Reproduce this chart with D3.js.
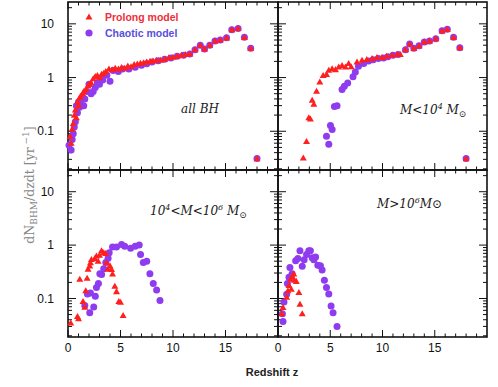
<!DOCTYPE html>
<html>
<head>
<meta charset="utf-8">
<script src="https://cdn.jsdelivr.net/npm/d3@7"></script>
<style>
  body { margin: 0; background: #fff; }
  svg { display: block; }
</style>
</head>
<body>
<div id="chart"></div>
<script>
// [redshift z, dN/dzdt] pairs
const allProlong = [
  [0.2, 0.08], [0.3, 0.06], [0.4, 0.11], [0.5, 0.14], [0.6, 0.2], [0.7, 0.25], [0.8, 0.18],
  [0.9, 0.35], [1.0, 0.3], [1.1, 0.42], [1.2, 0.45], [1.4, 0.5], [1.5, 0.55], [1.7, 0.6],
  [1.9, 0.7], [2.0, 0.75], [2.2, 0.8], [2.4, 0.95], [2.6, 1.05], [2.8, 1.1], [3.0, 1.0],
  [3.2, 1.15], [3.4, 1.2], [3.6, 1.3], [3.9, 1.45], [4.2, 1.4], [4.5, 1.5], [4.8, 1.45],
  [5.1, 1.55], [5.4, 1.5], [5.7, 1.65], [6.0, 1.6], [6.3, 1.75], [6.6, 1.8], [6.9, 1.85],
  [7.2, 1.9], [7.5, 1.95], [7.8, 2.0], [8.1, 2.05], [8.4, 2.1], [8.8, 2.1], [9.2, 2.2],
  [9.6, 2.35], [10.0, 2.4], [10.4, 2.5], [10.8, 2.6], [11.2, 2.7], [11.6, 2.75], [12.1, 3.3],
  [12.6, 4.0], [13.0, 3.4], [13.5, 4.0], [14.0, 4.8], [14.5, 5.0], [15.1, 5.5], [15.6, 7.8],
  [16.2, 8.2], [16.8, 5.6], [17.4, 3.5], [18.0, 0.031]
];
const allChaotic = [
  [0.1, 0.055], [0.3, 0.045], [0.4, 0.07], [0.5, 0.09], [0.6, 0.12], [0.7, 0.15], [0.8, 0.3],
  [0.9, 0.22], [1.0, 0.35], [1.1, 0.28], [1.2, 0.32], [1.5, 0.3], [1.6, 0.4], [1.8, 0.55],
  [2.0, 0.75], [2.2, 0.5], [2.4, 0.55], [2.6, 0.65], [2.8, 0.8], [3.0, 0.75], [3.3, 0.9],
  [3.7, 1.1], [4.0, 0.85], [4.3, 1.35], [4.8, 1.3], [5.2, 1.45], [5.8, 1.45], [6.4, 1.55],
  [7.0, 1.7], [7.5, 1.8], [8.0, 1.95], [8.6, 2.05], [9.2, 2.2], [9.8, 2.3], [10.4, 2.5],
  [11.0, 2.6], [11.6, 2.75], [12.1, 3.3], [12.6, 4.0], [13.0, 3.4], [13.5, 4.0], [14.0, 4.8],
  [14.5, 5.0], [15.1, 5.5], [15.6, 7.8], [16.2, 8.2], [16.8, 5.6], [17.4, 3.5], [18.0, 0.031]
];
const lowProlong = [
  [2.42, 0.032], [2.73, 0.065], [2.95, 0.18], [3.1, 0.17], [3.27, 0.38], [3.43, 0.32],
  [3.69, 0.56], [4.0, 0.83], [4.32, 1.1], [4.64, 1.15], [4.86, 1.37], [5.18, 1.47],
  [5.5, 1.41], [5.81, 1.58], [6.13, 1.68], [6.45, 1.58], [6.76, 1.83], [7.0, 1.6],
  [7.56, 1.96], [8.04, 2.1], [8.5, 2.17], [9.0, 2.26], [9.47, 2.37], [9.95, 2.37],
  [10.4, 2.5], [10.9, 2.6], [11.4, 2.7], [11.7, 2.7], [12.2, 3.3], [12.6, 4.2], [13.0, 3.5],
  [13.5, 3.9], [14.0, 4.6], [14.5, 4.8], [15.1, 5.3], [15.7, 7.4], [16.2, 7.9], [16.8, 5.6],
  [17.4, 3.6], [18.0, 0.031]
];
const lowChaotic = [
  [4.86, 0.057], [4.64, 0.081], [5.02, 0.128], [5.18, 0.108], [5.4, 0.29], [5.65, 0.3],
  [6.13, 0.6], [6.35, 0.69], [6.67, 0.79], [7.18, 1.03], [7.4, 1.27], [7.7, 1.63],
  [8.2, 1.83], [8.67, 2.04], [9.1, 2.15], [9.6, 2.26], [10.1, 2.3], [10.5, 2.45], [11.0, 2.6],
  [11.5, 2.7], [12.2, 3.3], [12.6, 4.2], [13.0, 3.5], [13.5, 3.9], [14.0, 4.6], [14.5, 4.8],
  [15.1, 5.3], [15.7, 7.4], [16.2, 7.9], [16.8, 5.6], [17.4, 3.6], [18.0, 0.031]
];
const midProlong = [
  [0.26, 0.035], [0.9, 0.046], [1.0, 0.042], [1.12, 0.23], [1.43, 0.088], [1.6, 0.069],
  [1.69, 0.14], [1.82, 0.24], [1.91, 0.355], [2.07, 0.41], [2.14, 0.47], [2.23, 0.54],
  [2.55, 0.56], [2.71, 0.63], [2.87, 0.5], [3.0, 0.65], [3.19, 0.79], [3.4, 0.72], [3.6, 0.7],
  [3.67, 0.47], [3.8, 0.355], [4.0, 0.41], [4.15, 0.35], [4.24, 0.29], [4.46, 0.17],
  [4.62, 0.135], [4.84, 0.088], [5.0, 0.085], [5.25, 0.048]
];
const midChaotic = [
  [1.6, 0.074], [2.07, 0.054], [1.85, 0.122], [2.14, 0.127], [2.45, 0.069], [2.6, 0.11],
  [2.71, 0.16], [2.9, 0.19], [3.03, 0.29], [3.2, 0.28], [3.4, 0.36], [3.6, 0.47], [3.82, 0.57],
  [3.92, 0.72], [4.24, 0.92], [4.62, 0.92], [5.1, 1.03], [5.4, 0.95], [5.96, 0.87], [6.4, 0.95],
  [6.78, 1.0], [6.91, 0.67], [7.17, 0.47], [7.5, 0.5], [7.8, 0.29], [8.12, 0.19], [8.44, 0.145],
  [8.76, 0.092]
];
const highProlong = [
  [0.38, 0.052], [0.48, 0.068], [0.83, 0.106], [0.95, 0.14], [1.05, 0.175], [1.21, 0.23],
  [1.35, 0.26], [1.51, 0.29], [1.27, 0.15], [1.56, 0.22], [1.75, 0.21], [2.0, 0.13],
  [2.1, 0.078], [2.32, 0.052]
];
const highChaotic = [
  [0.48, 0.037], [0.42, 0.052], [0.57, 0.086], [0.83, 0.12], [0.9, 0.19], [1.05, 0.25],
  [1.14, 0.38], [1.35, 0.29], [1.69, 0.51], [1.9, 0.56], [2.1, 0.78], [2.32, 0.4], [2.5, 0.53],
  [2.73, 0.67], [2.95, 0.78], [3.1, 0.78], [3.27, 0.58], [3.43, 0.53], [3.6, 0.6], [3.81, 0.42],
  [4.06, 0.41], [4.22, 0.34], [4.44, 0.22], [4.64, 0.16], [4.86, 0.122], [5.08, 0.072],
  [5.27, 0.054], [5.65, 0.030]
];
const xTickValues = [0, 5, 10, 15];
const yTickLabels = [0.1, 1, 10];

const width = 498, height = 387;
const frame = { left: 68, mid: 278, right: 487, top: 2, middle: 170, bottom: 337 };
const red = "#ff1f1f", purple = "#8f3cf0";

const svg = d3.select("#chart").append("svg")
  .attr("width", width)
  .attr("height", height);

const panels = [
  { x0: frame.left, x1: frame.mid, y0: frame.top, y1: frame.middle, prolong: allProlong, chaotic: allChaotic, leftLabels: true, bottomLabels: false },
  { x0: frame.mid, x1: frame.right, y0: frame.top, y1: frame.middle, prolong: lowProlong, chaotic: lowChaotic, leftLabels: false, bottomLabels: false },
  { x0: frame.left, x1: frame.mid, y0: frame.middle, y1: frame.bottom, prolong: midProlong, chaotic: midChaotic, leftLabels: true, bottomLabels: true },
  { x0: frame.mid, x1: frame.right, y0: frame.middle, y1: frame.bottom, prolong: highProlong, chaotic: highChaotic, leftLabels: false, bottomLabels: true }
];

const triangle = d3.symbol().type(d3.symbolTriangle).size(21);

panels.forEach(function (p) {
  const x = d3.scaleLinear().domain([0, 20]).range([p.x0, p.x1]);
  const y = d3.scaleLog().domain([0.019, 25.5]).range([p.y1, p.y0]);
  const g = svg.append("g");

  // minor and major ticks, pointing inward
  const xTicks = d3.range(0, 20, 1);
  const yTicks = y.ticks();
  const isMajorY = function (d) { return yTickLabels.indexOf(+d.toPrecision(3)) >= 0; };

  xTicks.forEach(function (t) {
    const len = t % 5 === 0 ? 7 : 3.5;
    g.append("line").attr("x1", x(t)).attr("x2", x(t)).attr("y1", p.y1).attr("y2", p.y1 - len);
    g.append("line").attr("x1", x(t)).attr("x2", x(t)).attr("y1", p.y0).attr("y2", p.y0 + len);
  });
  yTicks.forEach(function (t) {
    const len = isMajorY(t) ? 8 : 4;
    g.append("line").attr("x1", p.x0).attr("x2", p.x0 + len).attr("y1", y(t)).attr("y2", y(t));
    g.append("line").attr("x1", p.x1).attr("x2", p.x1 - len).attr("y1", y(t)).attr("y2", y(t));
  });
  g.selectAll("line").attr("stroke", "#111").attr("stroke-width", 1);

  g.append("rect")
    .attr("x", p.x0).attr("y", p.y0)
    .attr("width", p.x1 - p.x0).attr("height", p.y1 - p.y0)
    .attr("fill", "none").attr("stroke", "#111").attr("stroke-width", 1.6);

  if (p.leftLabels) {
    g.selectAll(".ylab").data(yTickLabels).enter().append("text")
      .attr("x", p.x0 - 14).attr("y", function (d) { return y(d); })
      .attr("dy", "0.35em").attr("text-anchor", "end")
      .style("font-family", "Liberation Sans, Arial, sans-serif").style("font-size", "12px")
      .attr("fill", "#111")
      .text(function (d) { return d; });
  }
  if (p.bottomLabels) {
    g.selectAll(".xlab").data(xTickValues).enter().append("text")
      .attr("x", function (d) { return x(d); }).attr("y", p.y1 + 15)
      .attr("text-anchor", "middle")
      .style("font-family", "Liberation Sans, Arial, sans-serif").style("font-size", "12px")
      .attr("fill", "#111")
      .text(function (d) { return d; });
  }

  g.selectAll("circle").data(p.chaotic).enter().append("circle")
    .attr("cx", function (d) { return x(d[0]); })
    .attr("cy", function (d) { return y(d[1]); })
    .attr("r", 3.5)
    .attr("fill", purple);

  g.selectAll("path.tri").data(p.prolong).enter().append("path")
    .attr("class", "tri")
    .attr("d", triangle)
    .attr("transform", function (d) { return "translate(" + x(d[0]) + "," + (y(d[1]) + 0.6) + ")"; })
    .attr("fill", red);
});

// legend
svg.append("path").attr("d", triangle).attr("transform", "translate(89,17.5)").attr("fill", red);
svg.append("circle").attr("cx", 89).attr("cy", 33).attr("r", 3.6).attr("fill", purple);
svg.append("text").attr("x", 105).attr("y", 21)
  .style("font-family", "Liberation Sans, Arial, sans-serif").style("font-size", "10.5px").style("font-weight", "bold")
  .attr("fill", "#ee2f3a").text("Prolong model");
svg.append("text").attr("x", 105).attr("y", 37)
  .style("font-family", "Liberation Sans, Arial, sans-serif").style("font-size", "10.5px").style("font-weight", "bold")
  .attr("fill", "#5a4fdc").text("Chaotic model");

// panel labels
const serif = "DejaVu Serif, Liberation Serif, serif";
function panelLabel(xPos, yPos, parts) {
  const t = svg.append("text").attr("x", xPos).attr("y", yPos)
    .style("font-family", serif).style("font-style", "italic").style("font-size", "12px")
    .attr("fill", "#222");
  parts.forEach(function (s) {
    const span = t.append("tspan").text(s[0]);
    if (s[1] === "sup") span.attr("dy", -5).style("font-size", "8px");
    if (s[1] === "after") span.attr("dy", 5);
    if (s[1] === "sub") span.attr("dy", 3).style("font-size", "9px");
  });
}
panelLabel(181, 113, [["all  BH"]]);
panelLabel(400, 114, [["M<10"], ["4", "sup"], [" M", "after"], ["⊙", "sub"]]);
panelLabel(150, 215, [["10"], ["4", "sup"], ["<M<10", "after"], ["6", "sup"], [" M", "after"], ["⊙", "sub"]]);
panelLabel(377, 208, [["M>10"], ["6", "sup"], ["M⊙", "after"]]);

// axis titles
svg.append("text").attr("x", 272).attr("y", 376).attr("text-anchor", "middle")
  .style("font-family", "Liberation Sans, Arial, sans-serif").style("font-size", "11px").style("font-weight", "bold")
  .attr("fill", "#222").text("Redshift z");

const ylab = svg.append("text")
  .attr("transform", "translate(34,185) rotate(-90)")
  .attr("text-anchor", "middle")
  .style("font-family", serif).style("font-size", "12.5px")
  .attr("fill", "#888");
ylab.append("tspan").text("dN");
ylab.append("tspan").attr("dy", 3).style("font-size", "9px").text("BHM");
ylab.append("tspan").attr("dy", -3).text("/dzdt  [yr");
ylab.append("tspan").attr("dy", -5).style("font-size", "9px").text(" −1");
ylab.append("tspan").attr("dy", 5).text("]");
</script>
</body>
</html>
